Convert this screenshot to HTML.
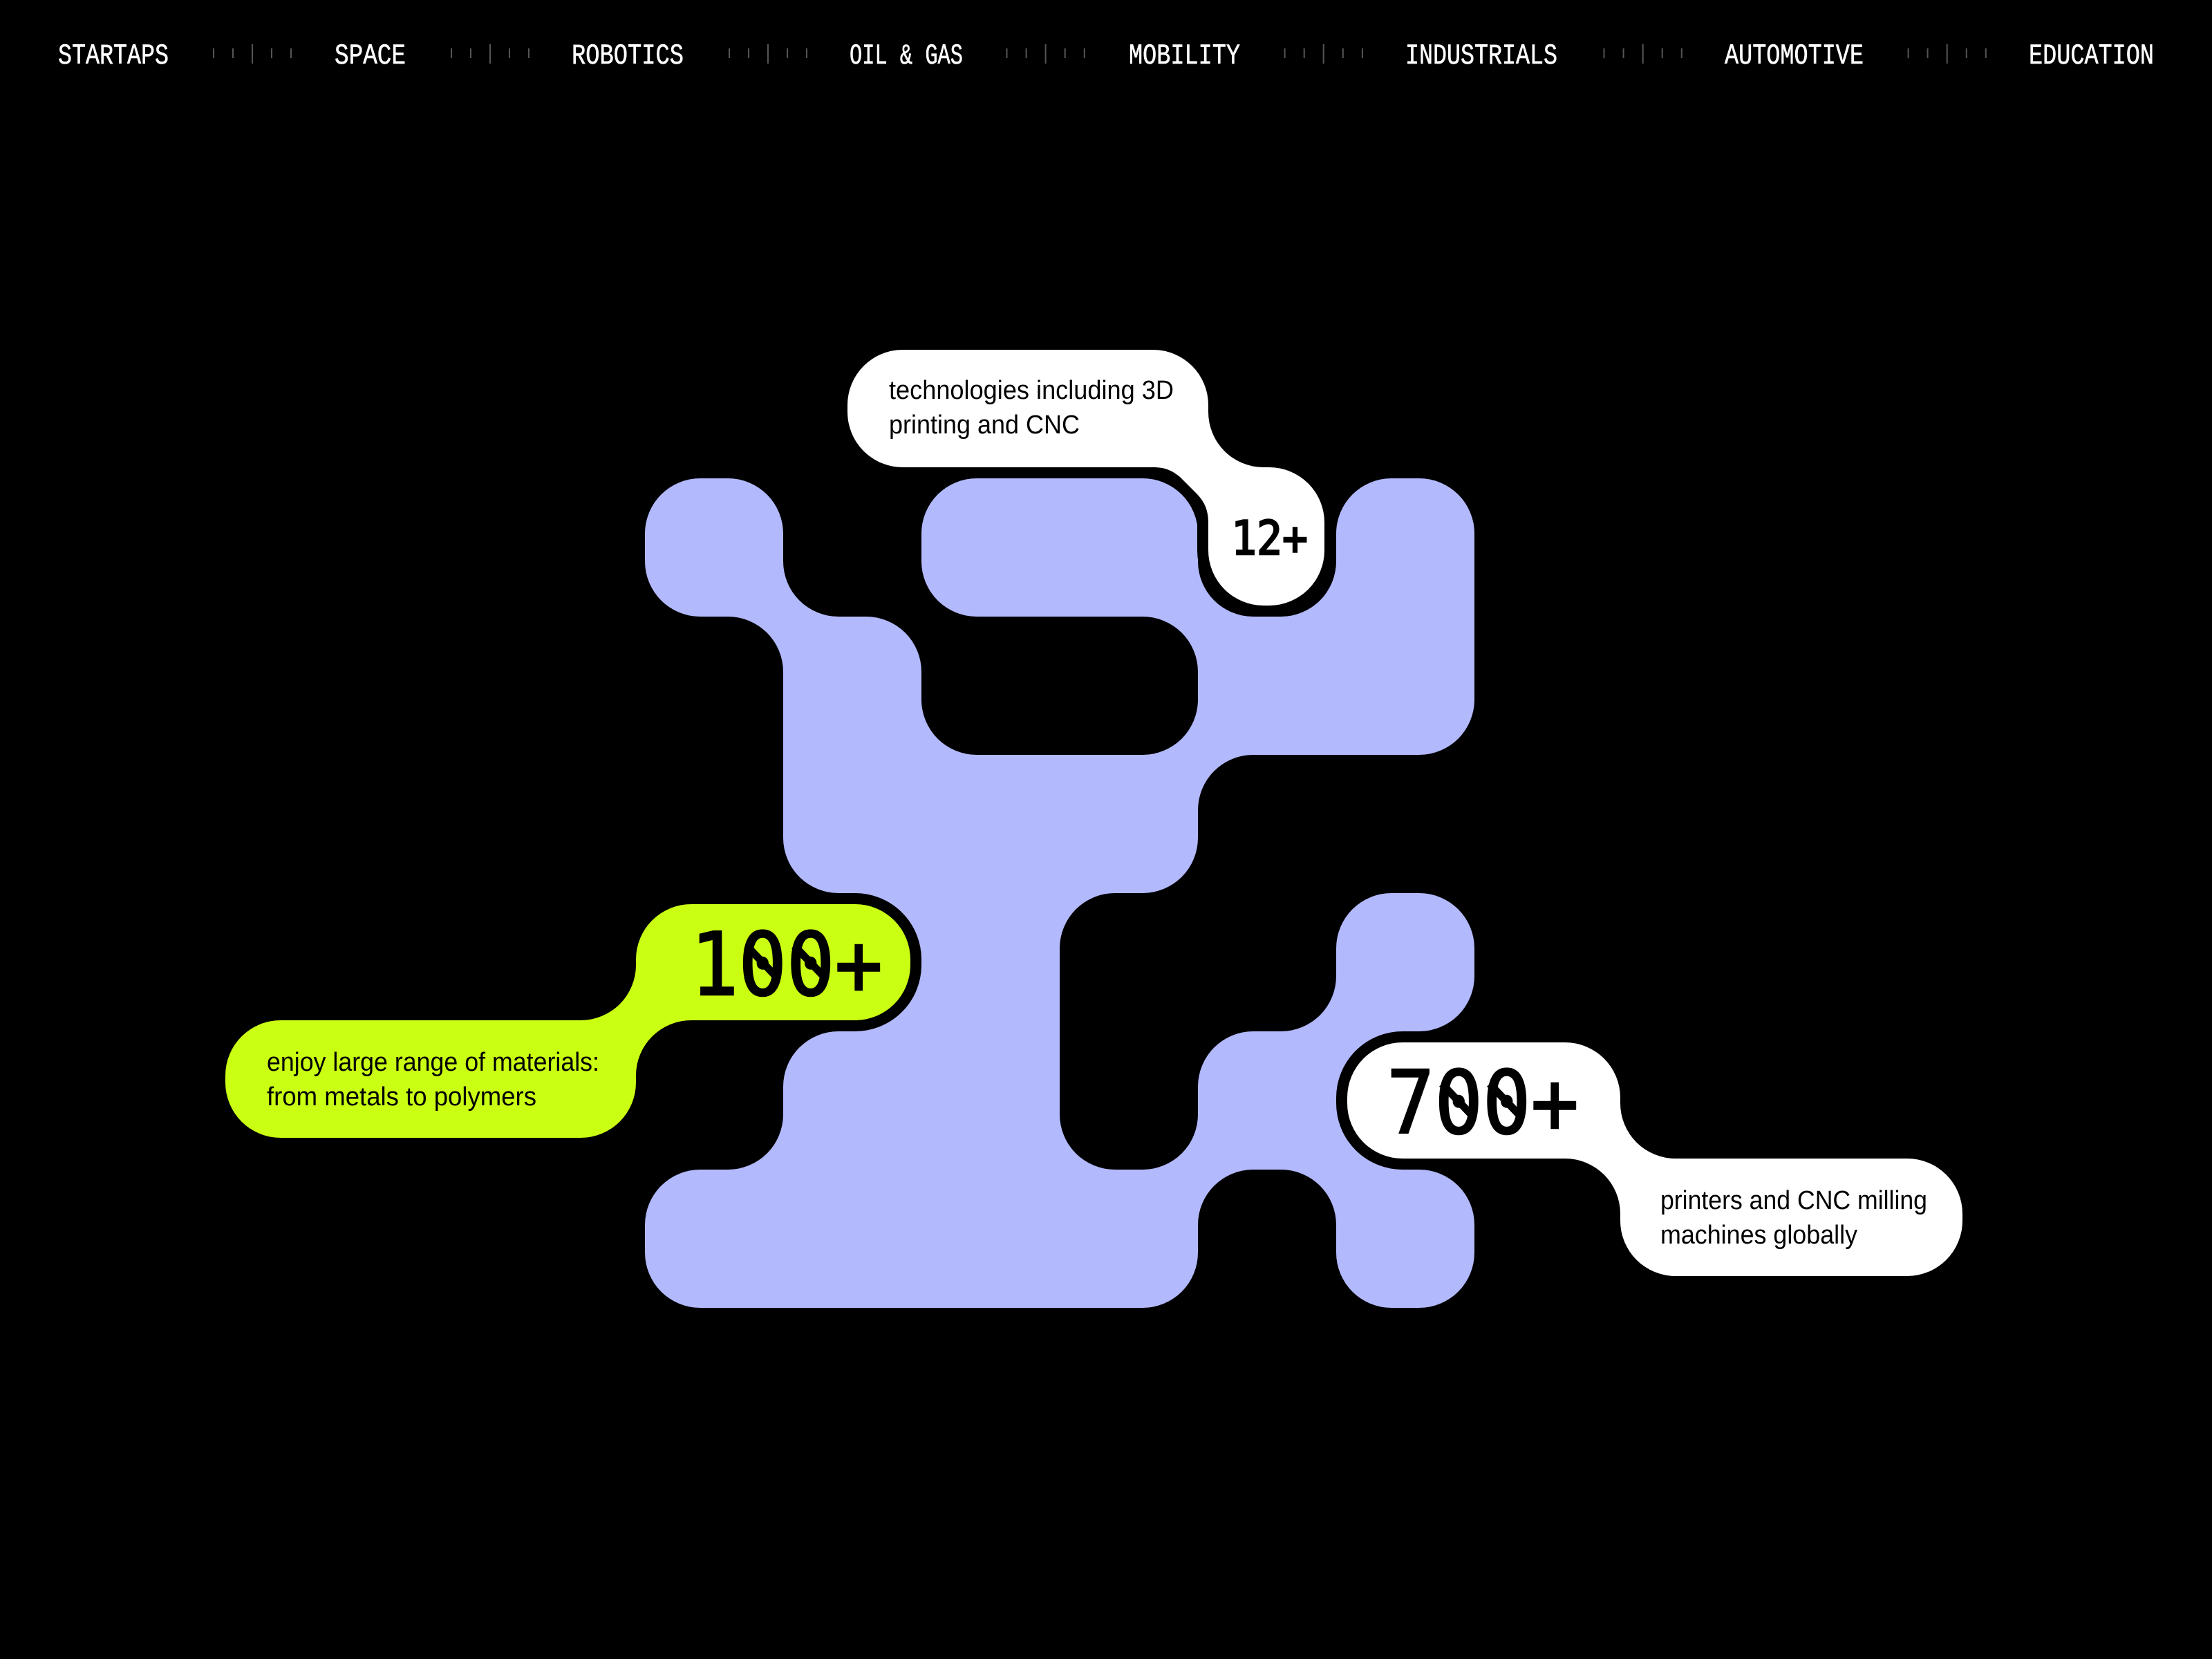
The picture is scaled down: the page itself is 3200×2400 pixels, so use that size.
<!DOCTYPE html>
<html><head><meta charset="utf-8"><style>
html,body{margin:0;padding:0;background:#000;width:3200px;height:2400px;overflow:hidden}
svg{display:block}
.n{font-family:"Liberation Mono",monospace;font-size:42px;fill:#fff;stroke:#fff;stroke-width:.6px}
.b{font-family:"Liberation Sans",sans-serif;font-size:38px;fill:#000}
.d{font-family:"DejaVu Sans Mono",monospace;font-weight:normal;fill:#000;stroke:#000;stroke-width:2.5px}
</style></head><body>
<svg xmlns="http://www.w3.org/2000/svg" width="3200" height="2400" viewBox="0 0 3200 2400">
<rect width="3200" height="2400" fill="#000"/>
<g stroke="#555" stroke-width="2">
<path d="M309 70V84M337 70V84M365 64V92M393 70V84M421 70V84"/>
<path d="M653 70V84M681 70V84M709 64V92M737 70V84M765 70V84"/>
<path d="M1055 70V84M1083 70V84M1111 64V92M1139 70V84M1167 70V84"/>
<path d="M1456.5 70V84M1484.6 70V84M1512.6 64V92M1540.7 70V84M1568.8 70V84"/>
<path d="M1858.6 70V84M1886.7 70V84M1914.7 64V92M1942.8 70V84M1970.9 70V84"/>
<path d="M2320.5 70V84M2348.6 70V84M2376.7 64V92M2404.7 70V84M2432.8 70V84"/>
<path d="M2760.6 70V84M2788.6 70V84M2816.7 64V92M2844.8 70V84M2872.8 70V84"/>
</g>
<text class="n" x="84" y="92" textLength="160" lengthAdjust="spacingAndGlyphs">STARTAPS</text>
<text class="n" x="484" y="92" textLength="103" lengthAdjust="spacingAndGlyphs">SPACE</text>
<text class="n" x="827" y="92" textLength="162" lengthAdjust="spacingAndGlyphs">ROBOTICS</text>
<text class="n" x="1229" y="92" textLength="164" lengthAdjust="spacingAndGlyphs">OIL &amp; GAS</text>
<text class="n" x="1633" y="92" textLength="161" lengthAdjust="spacingAndGlyphs">MOBILITY</text>
<text class="n" x="2033" y="92" textLength="220" lengthAdjust="spacingAndGlyphs">INDUSTRIALS</text>
<text class="n" x="2495" y="92" textLength="201" lengthAdjust="spacingAndGlyphs">AUTOMOTIVE</text>
<text class="n" x="2935" y="92" textLength="181" lengthAdjust="spacingAndGlyphs">EDUCATION</text>
<path fill="#B2B9FC" d="M1013 692H1053A80 80 0 0 1 1133 772V812A80 80 0 0 0 1213 892H1253A80 80 0 0 1 1333 972V1012A80 80 0 0 0 1413 1092H1653A80 80 0 0 0 1733 1012V972A80 80 0 0 0 1653 892H1413A80 80 0 0 1 1333 812V772A80 80 0 0 1 1413 692H1653A80 80 0 0 1 1733 772V812A80 80 0 0 0 1813 892H1853A80 80 0 0 0 1933 812V772A80 80 0 0 1 2013 692H2053A80 80 0 0 1 2133 772V1012A80 80 0 0 1 2053 1092H1813A80 80 0 0 0 1733 1172V1212A80 80 0 0 1 1653 1292H1613A80 80 0 0 0 1533 1372V1612A80 80 0 0 0 1613 1692H1653A80 80 0 0 0 1733 1612V1572A80 80 0 0 1 1813 1492H1853A80 80 0 0 0 1933 1412V1372A80 80 0 0 1 2013 1292H2053A80 80 0 0 1 2133 1372V1412A80 80 0 0 1 2053 1492V1692A80 80 0 0 1 2133 1772V1812A80 80 0 0 1 2053 1892H2013A80 80 0 0 1 1933 1812V1772A80 80 0 0 0 1853 1692H1813A80 80 0 0 0 1733 1772V1812A80 80 0 0 1 1653 1892H1013A80 80 0 0 1 933 1812V1772A80 80 0 0 1 1013 1692H1053A80 80 0 0 0 1133 1612V1572A80 80 0 0 1 1213 1492V1292A80 80 0 0 1 1133 1212V972A80 80 0 0 0 1053 892H1013A80 80 0 0 1 933 812V772A80 80 0 0 1 1013 692Z"/>
<path fill="#fff" stroke="#000" stroke-width="32" paint-order="stroke" d="M1306 506H1668A80 80 0 0 1 1748 586V596A80 80 0 0 0 1828 676H1836A80 80 0 0 1 1916 756V796A80 80 0 0 1 1836 876H1828A80 80 0 0 1 1748 796V756C1748 736 1741 724 1730 713L1707 690C1696 681 1686 676 1668 676H1306A80 80 0 0 1 1226 596V586A80 80 0 0 1 1306 506Z"/>
<path fill="#CAFF14" stroke="#000" stroke-width="32" paint-order="stroke" d="M1000 1308H1237A80 80 0 0 1 1317 1388V1396A80 80 0 0 1 1237 1476H1000A80 80 0 0 0 920 1556V1566A80 80 0 0 1 840 1646H406A80 80 0 0 1 326 1566V1556A80 80 0 0 1 406 1476H840A80 80 0 0 0 920 1396V1388A80 80 0 0 1 1000 1308Z"/>
<path fill="#fff" stroke="#000" stroke-width="32" paint-order="stroke" d="M2029 1508H2264A80 80 0 0 1 2344 1588V1596A80 80 0 0 0 2424 1676H2759A80 80 0 0 1 2839 1756V1766A80 80 0 0 1 2759 1846H2424A80 80 0 0 1 2344 1766V1756A80 80 0 0 0 2264 1676H2029A80 80 0 0 1 1949 1596V1588A80 80 0 0 1 2029 1508Z"/>
<text class="b" x="1286" y="577" textLength="412" lengthAdjust="spacingAndGlyphs">technologies including 3D</text>
<text class="b" x="1286" y="627" textLength="276" lengthAdjust="spacingAndGlyphs">printing and CNC</text>
<text class="b" x="386" y="1549" textLength="481" lengthAdjust="spacingAndGlyphs">enjoy large range of materials:</text>
<text class="b" x="386" y="1599" textLength="390" lengthAdjust="spacingAndGlyphs">from metals to polymers</text>
<text class="b" x="2402" y="1749" textLength="386" lengthAdjust="spacingAndGlyphs">printers and CNC milling</text>
<text class="b" x="2402" y="1799" textLength="285" lengthAdjust="spacingAndGlyphs">machines globally</text>
<text class="d" x="999" y="1439" font-size="126" textLength="278" lengthAdjust="spacingAndGlyphs">100+</text>
<text class="d" x="2006" y="1639" font-size="126" textLength="278" lengthAdjust="spacingAndGlyphs">700+</text>
<text class="d" x="1781" y="802" font-size="68" textLength="111" lengthAdjust="spacingAndGlyphs">12+</text>
<path stroke="#000" stroke-width="11" fill="none" d="M1080 1368L1122 1412M1149 1368L1191 1412M2086 1568L2128 1612M2155 1568L2197 1612"/>
</svg>
</body></html>
